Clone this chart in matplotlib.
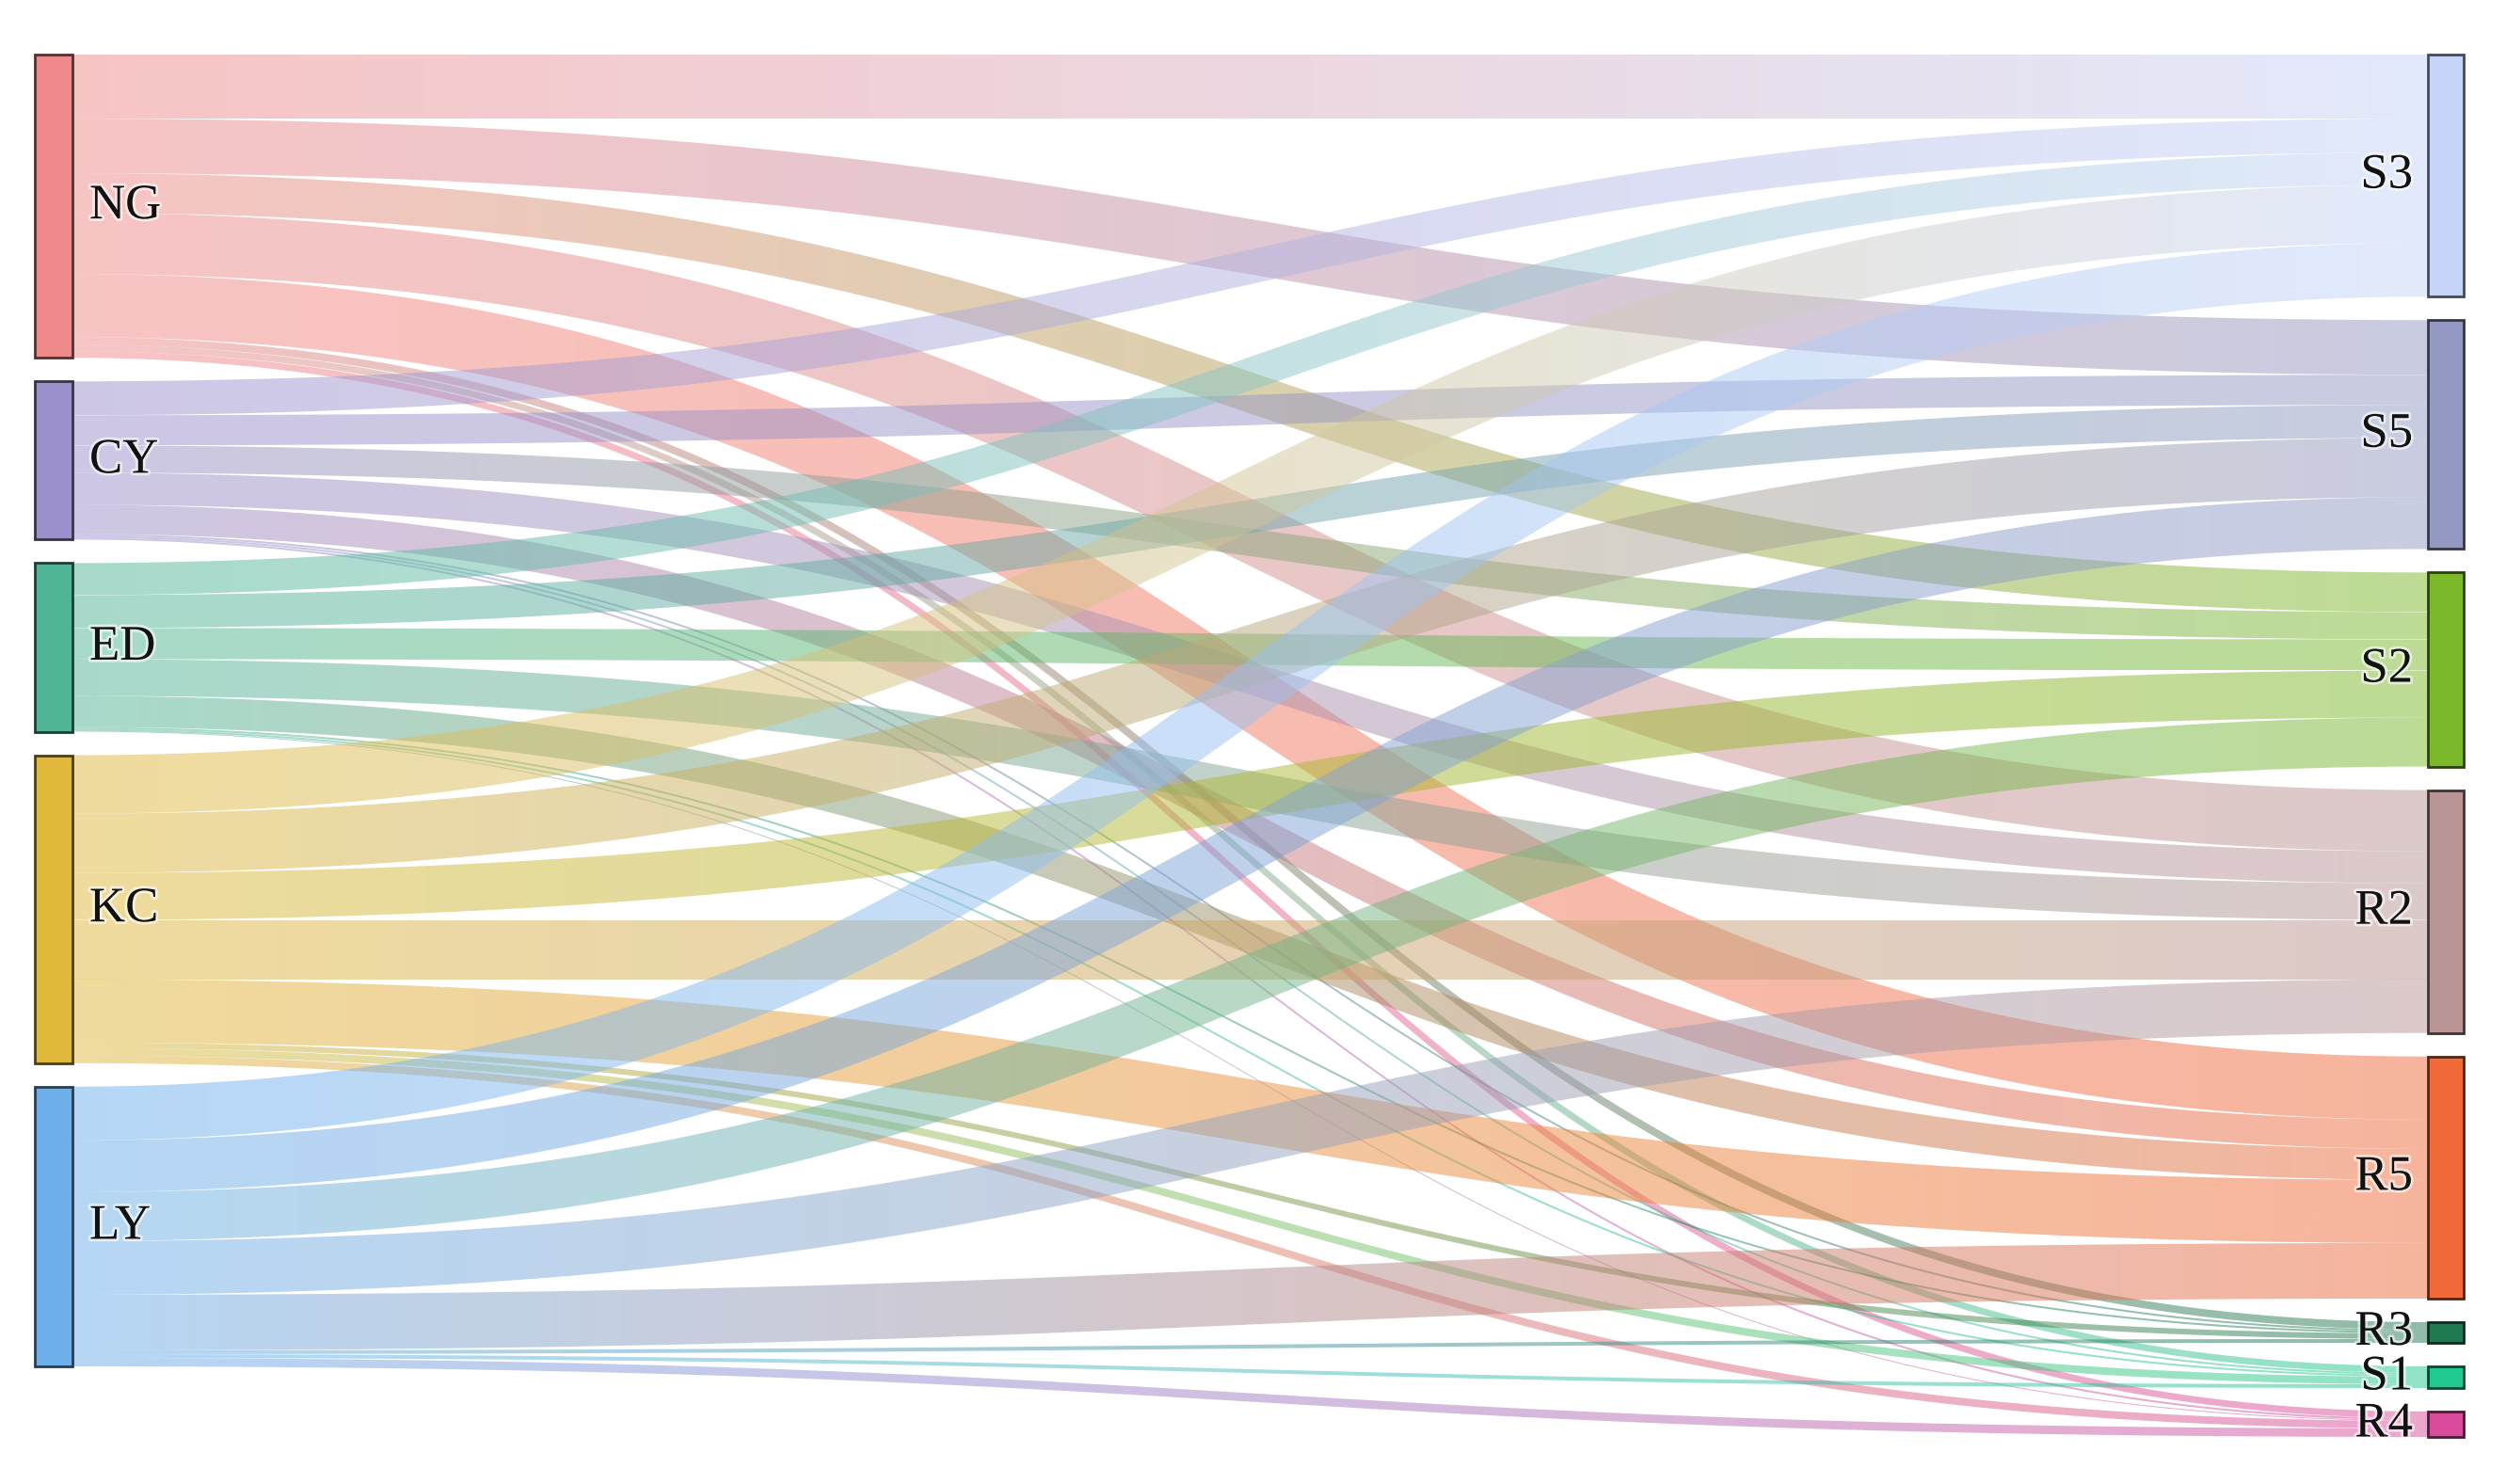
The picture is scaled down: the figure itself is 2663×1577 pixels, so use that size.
import numpy as np
import matplotlib
matplotlib.use('Agg')
import matplotlib.pyplot as plt
from matplotlib.path import Path
from matplotlib.patches import Rectangle
from matplotlib.colors import to_rgb
import matplotlib.patheffects as pe

plt.rcParams['font.family'] = ['Liberation Serif', 'DejaVu Serif']

# nodes
sources = ['NG', 'CY', 'ED', 'KC', 'LY']
targets = ['S3', 'S5', 'S2', 'R2', 'R5', 'R3', 'S1', 'R4']

source_colors = ['#F08A8A', '#9C90CC', '#4FB596', '#E0B83A', '#6CAFEB']
target_colors = ['#C6D4F8', '#9399C3', '#7BB92B', '#BA9595', '#F06A3A',
                 '#1F7A52', '#1FC98F', '#D84C9B']

# flow from each source to the targets (same order as targets)
flow_NG = [68, 58, 42, 65, 67, 8, 7, 7]
flow_CY = [36, 32, 29, 34, 31, 2, 2, 2]
flow_ED = [34, 35, 33, 39, 33, 2, 2, 1]
flow_KC = [62, 63, 50, 63, 67, 6, 8, 8]
flow_LY = [57, 55, 52, 57, 59, 4, 4, 9]

flows = np.array([flow_NG, flow_CY, flow_ED, flow_KC, flow_LY], dtype=float)

# layout (pixels)
W, H = 2663, 1577
top, bottom, pad = 58, 1452, 25
node_w = 40
left_x, right_x = 37, 2580

k = (bottom - top - pad * (len(sources) - 1)) / flows.sum()


def stack(sizes):
    ys, y = [], top
    for s in sizes:
        ys.append(y)
        y += s * k + pad
    return ys


src_y = stack(flows.sum(axis=1))
tgt_y = stack(flows.sum(axis=0))


def band(x0, y0, x1, y1, w, n=300):
    # cubic link like d3 sankeyLinkHorizontal, widened along the normal
    t = np.linspace(0, 1, n)[:, None]
    xm = (x0 + x1) / 2
    P0, P1 = np.array([x0, y0]), np.array([xm, y0])
    P2, P3 = np.array([xm, y1]), np.array([x1, y1])
    B = (1 - t)**3 * P0 + 3 * (1 - t)**2 * t * P1 + 3 * (1 - t) * t**2 * P2 + t**3 * P3
    D = 3 * (1 - t)**2 * (P1 - P0) + 6 * (1 - t) * t * (P2 - P1) + 3 * t**2 * (P3 - P2)
    nrm = np.column_stack([-D[:, 1], D[:, 0]]) / np.linalg.norm(D, axis=1)[:, None]
    up = B + nrm * w / 2
    lo = B - nrm * w / 2
    return np.vstack([up, lo[::-1]])


fig = plt.figure(figsize=(W / 100, H / 100), dpi=100)
ax = fig.add_axes([0, 0, 1, 1])

x0 = left_x + node_w
x1 = right_x
grad_s = np.linspace(0, 1, 256)[:, None]

src_off = list(src_y)
tgt_off = list(tgt_y)
for i in range(len(sources)):
    for j in range(len(targets)):
        w = flows[i, j] * k
        ys = src_off[i] + w / 2
        yt = tgt_off[j] + w / 2
        src_off[i] += w
        tgt_off[j] += w
        poly = band(x0, ys, x1, yt, w)
        c0 = np.array(to_rgb(source_colors[i]))
        c1 = np.array(to_rgb(target_colors[j]))
        rgb = (1 - grad_s) * c0 + grad_s * c1
        rgba = np.concatenate([rgb, np.full((256, 1), 0.5)], axis=1)[None, :, :]
        ymin, ymax = poly[:, 1].min(), poly[:, 1].max()
        im = ax.imshow(rgba, extent=(x0, x1, ymax, ymin), aspect='auto',
                       interpolation='bilinear', zorder=1)
        im.set_clip_path(Path(poly), ax.transData)

halo = [pe.withStroke(linewidth=4, foreground='white', alpha=0.6)]

for name, col, y, v in zip(sources, source_colors, src_y, flows.sum(axis=1)):
    h = v * k
    edge = np.array(to_rgb(col)) * 0.35
    ax.add_patch(Rectangle((left_x, y), node_w, h, facecolor=col,
                           edgecolor=edge, linewidth=2, zorder=3))
    ax.text(left_x + node_w + 18, y + h / 2, name, ha='left', va='center',
            fontsize=38, color='#111111', zorder=4, path_effects=halo)

for name, col, y, v in zip(targets, target_colors, tgt_y, flows.sum(axis=0)):
    h = v * k
    edge = np.array(to_rgb(col)) * 0.35
    ax.add_patch(Rectangle((right_x, y), node_w - 2, h, facecolor=col,
                           edgecolor=edge, linewidth=2, zorder=3))
    ax.text(right_x - 16, y + h / 2, name, ha='right', va='center',
            fontsize=38, color='#111111', zorder=4, path_effects=halo)

ax.set_xlim(0, W)
ax.set_ylim(H, 0)
ax.axis('off')

fig.savefig('out.png', dpi=100, facecolor='white')
